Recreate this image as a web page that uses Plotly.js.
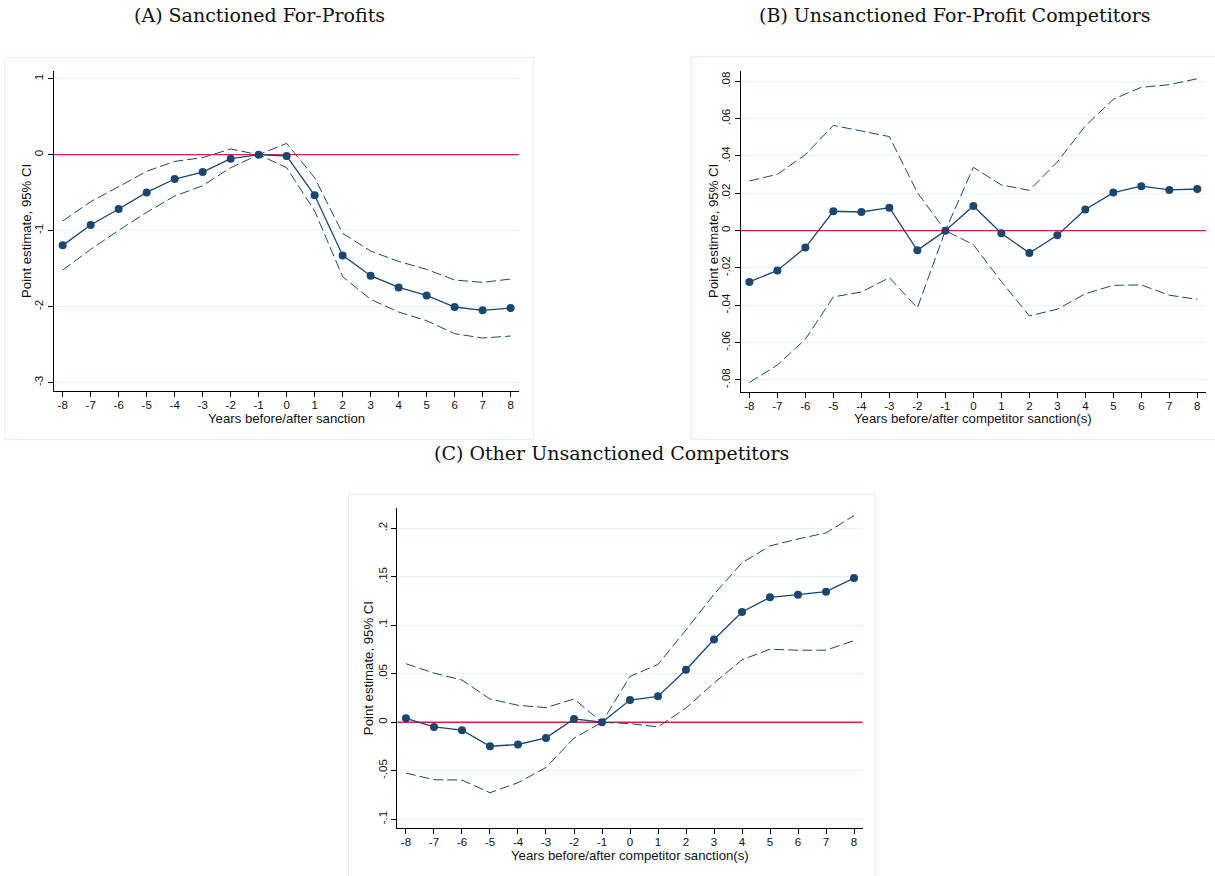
<!DOCTYPE html>
<html>
<head>
<meta charset="utf-8">
<script src="https://cdn.plot.ly/plotly-3.0.1.min.js"></script>
<style>
  html, body { margin: 0; padding: 0; background: #ffffff; }
  #chart { width: 1215px; height: 876px; }
</style>
</head>
<body>
<div id="chart"></div>
<script>
// ---------- data ----------
const years = [-8, -7, -6, -5, -4, -3, -2, -1, 0, 1, 2, 3, 4, 5, 6, 7, 8];
const xTickLabels = ['-8', '-7', '-6', '-5', '-4', '-3', '-2', '-1', '0', '1', '2', '3', '4', '5', '6', '7', '8'];

// (A) Sanctioned For-Profits
const aPoint = [-1.193, -0.925, -0.715, -0.496, -0.320, -0.228, -0.053, 0, -0.018, -0.535, -1.325, -1.592, -1.746, -1.851, -2.004, -2.048, -2.018];
const aUpper = [-0.873, -0.618, -0.421, -0.219, -0.088, -0.039, 0.075, 0, 0.149, -0.303, -1.035, -1.268, -1.404, -1.509, -1.649, -1.680, -1.636];
const aLower = [-1.518, -1.246, -0.996, -0.759, -0.544, -0.408, -0.171, 0, -0.171, -0.741, -1.605, -1.904, -2.070, -2.184, -2.355, -2.412, -2.386];
const aYTicks = [-3, -2, -1, 0, 1];
const aYLabels = ['-3', '-2', '-1', '0', '1'];

// (B) Unsanctioned For-Profit Competitors
const bPoint = [-0.0275, -0.0213, -0.0091, 0.0104, 0.0100, 0.0123, -0.0105, 0, 0.0132, -0.0014, -0.0120, -0.0025, 0.0113, 0.0204, 0.0238, 0.0218, 0.0223];
const bUpper = [0.0266, 0.0302, 0.0407, 0.0564, 0.0534, 0.0504, 0.0204, 0, 0.0339, 0.0245, 0.0216, 0.0368, 0.0561, 0.0704, 0.0768, 0.0782, 0.0814];
const bLower = [-0.0814, -0.0720, -0.0582, -0.0355, -0.0329, -0.0252, -0.0414, 0, -0.0075, -0.0273, -0.0457, -0.0421, -0.0338, -0.0293, -0.0291, -0.0346, -0.0368];
const bYTicks = [-0.08, -0.06, -0.04, -0.02, 0, 0.02, 0.04, 0.06, 0.08];
const bYLabels = ['-.08', '-.06', '-.04', '-.02', '0', '.02', '.04', '.06', '.08'];

// (C) Other Unsanctioned Competitors
const cPoint = [0.0041, -0.0048, -0.0082, -0.0247, -0.0229, -0.0161, 0.0034, 0, 0.0229, 0.0267, 0.0541, 0.0853, 0.1137, 0.1288, 0.1315, 0.1346, 0.1486];
const cUpper = [0.0603, 0.0507, 0.0435, 0.0240, 0.0175, 0.0151, 0.0240, 0, 0.0473, 0.0596, 0.0952, 0.1318, 0.1644, 0.1818, 0.1890, 0.1952, 0.2130];
const cLower = [-0.0524, -0.0592, -0.0596, -0.0726, -0.0623, -0.0466, -0.0164, 0, -0.0014, -0.0048, 0.0147, 0.0404, 0.0644, 0.0753, 0.0743, 0.0743, 0.0842];
const cYTicks = [-0.1, -0.05, 0, 0.05, 0.1, 0.15, 0.2];
const cYLabels = ['-.1', '-.05', '0', '.05', '.1', '.15', '.2'];

const panelTitles = ['(A) Sanctioned For-Profits', '(B) Unsanctioned For-Profit Competitors', '(C) Other Unsanctioned Competitors'];
const xTitles = ['Years before/after sanction', 'Years before/after competitor sanction(s)', 'Years before/after competitor sanction(s)'];
const yTitle = 'Point estimate, 95% CI';

// ---------- styling ----------
const W = 1215, H = 876;
const NAVY = '#1a476f';
const RED = '#d91f4b';
const GRID = '#e8f0f2';
const BOX = '#e6eef0';
const SANS = 'Liberation Sans, Arial, sans-serif';
const SERIF = 'DejaVu Serif, serif';

function px(x) { return x / W; }
function py(y) { return 1 - y / H; }

// plot areas in pixel coords [left, right, top, bottom]
const areas = [
  [54, 519.3, 70.7, 391.3],
  [740.7, 1206, 70.7, 391.7],
  [397.3, 862.7, 507.7, 828]
];
const yRanges = [[-3.113, 1.105], [-0.0863, 0.0857], [-0.109, 0.2212]];
const xRange = [-8.31, 8.31];
const yTicksAll = [aYTicks, bYTicks, cYTicks];
const yLabelsAll = [aYLabels, bYLabels, cYLabels];
const series = [[aPoint, aUpper, aLower], [bPoint, bUpper, bLower], [cPoint, cUpper, cLower]];

const traces = [];
const layout = {
  width: W, height: H,
  margin: {l: 0, r: 0, t: 0, b: 0},
  paper_bgcolor: '#ffffff',
  plot_bgcolor: 'rgba(0,0,0,0)',
  showlegend: false,
  shapes: [],
  annotations: []
};

for (let i = 0; i < 3; i++) {
  const sfx = i === 0 ? '' : String(i + 1);
  const xa = 'x' + sfx, ya = 'y' + sfx;
  const [l, r, t, b] = areas[i];
  layout['xaxis' + sfx] = {
    domain: [px(l), px(r)],
    anchor: ya,
    range: xRange,
    tickmode: 'array', tickvals: years, ticktext: xTickLabels,
    ticks: 'outside', ticklen: 5, tickwidth: 1, tickcolor: '#000',
    ticklabelstandoff: -2,
    showline: true, linecolor: '#000', linewidth: 1,
    showgrid: false, zeroline: false,
    tickfont: {family: SANS, size: 11.5, color: '#111'}
  };
  layout['yaxis' + sfx] = {
    domain: [py(b), py(t)],
    anchor: xa,
    range: yRanges[i],
    tickmode: 'array', tickvals: yTicksAll[i], ticktext: yLabelsAll[i],
    tickangle: -90,
    ticks: 'outside', ticklen: 5, tickwidth: 1, tickcolor: '#000',
    showline: true, linecolor: '#000', linewidth: 1,
    showgrid: true, gridcolor: GRID, gridwidth: 1,
    zeroline: false,
    tickfont: {family: SANS, size: 11.5, color: '#111'}
  };
  const [pt, up, lo] = series[i];

  // zero reference line: above the grid, below the traces
  layout.shapes.push({type: 'line', xref: xa, yref: ya, x0: xRange[0], x1: xRange[1], y0: 0, y1: 0,
    line: {color: RED, width: 1.3}, layer: 'between'});

  traces.push({x: years, y: up, xaxis: xa, yaxis: ya, mode: 'lines', type: 'scatter',
    line: {color: NAVY, width: 1, dash: '10px,4px'}, hoverinfo: 'skip'});
  traces.push({x: years, y: lo, xaxis: xa, yaxis: ya, mode: 'lines', type: 'scatter',
    line: {color: NAVY, width: 1, dash: '10px,4px'}, hoverinfo: 'skip'});
  traces.push({x: years, y: pt, xaxis: xa, yaxis: ya, mode: 'lines+markers', type: 'scatter',
    line: {color: NAVY, width: 1.3}, marker: {color: NAVY, size: 8}, hoverinfo: 'skip'});

  // axis titles
  layout.annotations.push({text: xTitles[i], xref: 'paper', yref: 'paper',
    x: px((l + r) / 2), y: py(b + 27), xanchor: 'center', yanchor: 'middle', showarrow: false,
    font: {family: SANS, size: 13.2, color: '#111'}});
  layout.annotations.push({text: yTitle, xref: 'paper', yref: 'paper', textangle: -90,
    x: px(l - 28), y: py((t + b) / 2), xanchor: 'center', yanchor: 'middle', showarrow: false,
    font: {family: SANS, size: 13.2, color: '#111'}});
}

// outer graph-region boxes
const boxes = [[5, 533.3, 57.3, 439.3], [691.7, 1218, 56.7, 439.3], [348.3, 875.7, 494.3, 880]];
boxes.forEach(bx => {
  layout.shapes.push({type: 'rect', xref: 'paper', yref: 'paper',
    x0: px(bx[0]), x1: px(bx[1]), y0: py(bx[3]), y1: py(bx[2]),
    line: {color: BOX, width: 1}, fillcolor: 'rgba(0,0,0,0)', layer: 'below'});
});

// panel captions
const captionPos = [[259, 15], [955, 15], [612, 453]];
panelTitles.forEach((txt, i) => {
  layout.annotations.push({text: txt, xref: 'paper', yref: 'paper',
    x: px(captionPos[i][0]), y: py(captionPos[i][1]), xanchor: 'center', yanchor: 'middle',
    showarrow: false, font: {family: SERIF, size: 19, color: '#111'}});
});

Plotly.newPlot('chart', traces, layout, {displayModeBar: false, staticPlot: true});
</script>
</body>
</html>
